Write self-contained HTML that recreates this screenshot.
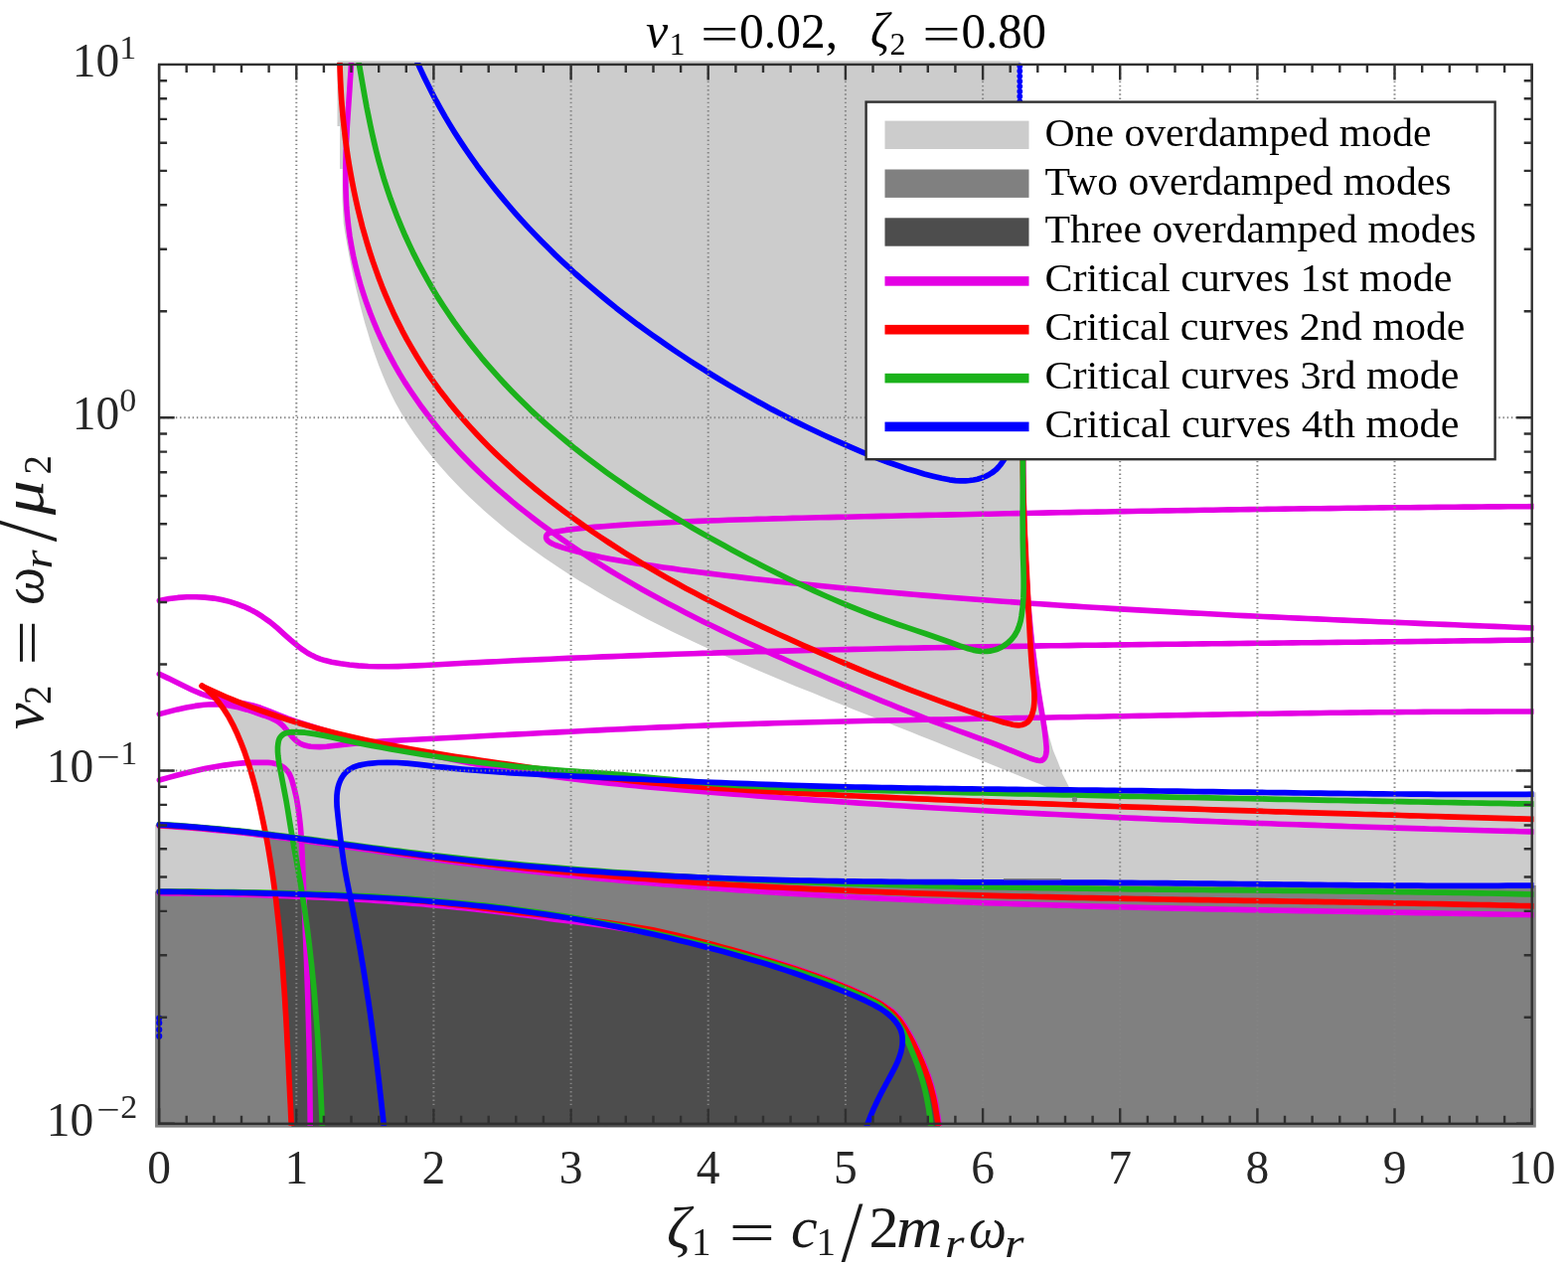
<!DOCTYPE html>
<html lang="en"><head><meta charset="utf-8"><title>Critical damping curves</title>
<style>html,body{margin:0;padding:0;background:#fff}body{width:1578px;height:1276px;overflow:hidden}svg{display:block}text{font-family:"Liberation Serif","DejaVu Serif",serif;fill:#262626}.it{font-style:italic}.sl{font-family:"DejaVu Sans Light","DejaVu Sans","Liberation Sans",sans-serif;font-weight:200}</style></head><body>
<svg width="1578" height="1276" viewBox="0 0 1578 1276">
<rect width="1578" height="1276" fill="#fff"/>
<defs><clipPath id="cp"><rect x="156.1" y="61.3" width="1389.6" height="1073.1"/></clipPath>
<clipPath id="cc"><rect x="157.1" y="62.9" width="1386.4" height="1069.9"/></clipPath></defs>
<g clip-path="url(#cp)">
<path d="M339.5 61.0 L339.5 127.0 L342.0 127.0 L342.0 170.0 L344.6 170.0 L344.6 203.0 L345.7 225.0 L347.3 234.9 L349.0 244.7 L350.8 254.5 L352.7 264.4 L354.5 273.2 L356.4 282.0 L358.4 290.8 L360.5 299.5 L362.7 308.3 L365.0 317.0 L367.4 325.7 L370.0 334.3 L372.6 342.9 L375.4 351.5 L378.4 360.0 L381.5 368.5 L385.2 377.7 L389.1 386.9 L393.3 396.0 L397.8 404.9 L402.6 413.6 L407.7 422.2 L412.6 429.8 L417.7 437.2 L423.0 444.5 L428.5 451.7 L434.2 458.8 L440.0 465.7 L445.9 472.5 L451.9 479.2 L458.1 485.7 L465.1 492.9 L472.2 499.9 L479.5 506.7 L486.8 513.5 L494.3 520.0 L502.0 526.5 L509.7 532.9 L517.5 539.1 L525.4 545.2 L532.7 550.5 L540.0 555.8 L547.3 561.0 L554.8 566.1 L562.2 571.1 L569.8 576.1 L577.4 580.9 L585.1 585.7 L592.8 590.3 L600.5 594.9 L608.3 599.5 L616.1 603.9 L624.0 608.3 L632.8 613.1 L641.6 617.8 L650.4 622.4 L659.3 627.0 L668.3 631.4 L677.2 635.9 L686.2 640.2 L695.2 644.5 L704.3 648.7 L713.4 652.9 L722.5 657.0 L731.6 661.1 L740.8 665.1 L750.0 669.1 L759.1 673.0 L767.4 676.5 L775.7 680.0 L784.0 683.5 L792.3 686.9 L800.7 690.4 L809.0 693.8 L817.4 697.1 L825.7 700.5 L834.1 703.9 L842.4 707.2 L850.8 710.6 L859.1 713.9 L867.5 717.2 L875.9 720.5 L884.3 723.8 L892.6 727.1 L901.0 730.5 L909.4 733.8 L917.7 737.1 L926.1 740.4 L934.5 743.7 L942.8 747.1 L951.2 750.4 L960.5 754.2 L969.7 757.9 L979.0 761.7 L988.3 765.4 L997.5 769.2 L1006.8 773.0 L1016.0 776.7 L1025.3 780.5 L1034.6 784.3 L1043.8 788.0 L1053.1 791.7 L1062.4 795.5 L1071.7 799.2 L1081.0 802.9 L1084.7 804.4 L1084.5 804.8 L1081.7 802.7 L1075.0 790.3 L1069.3 778.9 L1064.6 766.5 L1059.8 755.1 L1055.0 738.0 L1051.0 719.0 L1048.0 700.0 L1043.0 660.0 L1039.0 630.0 L1036.0 600.0 L1034.0 560.0 L1032.0 500.0 L1031.0 461.0 L1027.0 440.0 L1026.5 61.0Z" fill="#cccccc"/>
<path d="M150.0 830.1 L160.3 829.8 L169.3 830.4 L178.3 831.0 L187.3 831.6 L196.3 832.4 L205.2 833.1 L214.2 834.0 L223.2 834.8 L232.1 835.8 L241.1 836.7 L250.0 837.7 L258.9 838.7 L266.3 834.1 L264.5 825.3 L262.6 816.4 L260.7 807.6 L258.6 798.9 L256.3 790.1 L253.9 781.4 L251.4 772.7 L248.6 764.1 L245.7 755.6 L242.4 747.2 L238.9 738.8 L235.1 730.7 L230.4 721.8 L225.6 714.2 L221.0 707.8 L216.6 702.4 L212.5 698.1 L208.1 693.9 L203.4 690.1 L203.1 690.3 L211.3 694.1 L219.6 697.9 L227.9 701.5 L236.2 705.0 L244.6 708.3 L253.0 711.6 L262.3 715.0 L271.8 718.3 L281.2 721.5 L290.7 724.6 L300.3 727.5 L309.9 730.3 L319.5 733.0 L329.1 735.5 L338.8 738.0 L348.5 740.3 L358.2 742.6 L368.0 744.8 L377.8 746.9 L386.6 748.7 L395.4 750.4 L404.3 752.1 L413.1 753.7 L422.0 755.3 L430.9 756.8 L439.8 758.3 L448.7 759.8 L457.6 761.2 L466.5 762.6 L475.4 763.9 L484.3 765.2 L493.2 766.5 L503.1 768.0 L513.0 769.4 L522.9 770.8 L539.0 772.8 L547.9 773.6 L556.9 774.3 L565.9 775.0 L574.9 775.8 L583.8 776.5 L592.8 777.1 L601.8 777.8 L610.8 778.4 L619.8 779.1 L628.8 779.7 L637.7 780.3 L646.7 780.9 L655.7 781.4 L664.7 782.0 L673.7 782.5 L682.7 783.0 L691.7 783.5 L700.7 784.0 L709.7 784.5 L718.7 785.0 L727.6 785.4 L736.6 785.8 L745.6 786.2 L754.6 786.6 L763.6 787.0 L772.6 787.3 L781.6 787.7 L790.6 788.0 L799.6 788.3 L808.6 788.6 L817.6 788.9 L826.6 789.2 L835.6 789.4 L844.6 789.7 L853.6 789.9 L862.6 790.1 L871.6 790.3 L880.6 790.5 L889.6 790.7 L898.7 790.9 L907.7 791.1 L916.7 791.2 L925.7 791.4 L934.7 791.5 L943.7 791.6 L952.7 791.7 L961.7 791.8 L970.7 791.9 L979.7 792.0 L988.7 792.1 L997.7 792.2 L1006.7 792.3 L1015.7 792.4 L1024.7 792.4 L1033.7 792.5 L1042.7 792.6 L1051.7 792.7 L1060.7 792.7 L1069.7 792.8 L1078.7 792.9 L1087.8 793.0 L1096.8 793.1 L1105.8 793.1 L1114.8 793.2 L1123.8 793.3 L1132.8 793.4 L1141.8 793.5 L1150.8 793.7 L1159.8 793.8 L1168.8 793.9 L1177.8 794.0 L1186.8 794.1 L1195.8 794.3 L1204.8 794.4 L1213.8 794.5 L1222.8 794.7 L1231.8 794.8 L1240.8 794.9 L1249.8 795.1 L1258.8 795.2 L1267.8 795.3 L1276.8 795.5 L1285.9 795.6 L1294.9 795.7 L1303.9 795.8 L1312.9 796.0 L1321.9 796.1 L1330.9 796.2 L1339.9 796.3 L1348.9 796.4 L1357.9 796.6 L1366.9 796.7 L1375.9 796.8 L1384.9 796.9 L1393.9 796.9 L1402.9 797.0 L1411.9 797.1 L1420.9 797.2 L1429.9 797.2 L1438.9 797.3 L1447.9 797.3 L1456.9 797.4 L1465.9 797.4 L1475.0 797.4 L1484.0 797.4 L1493.0 797.4 L1502.0 797.4 L1511.0 797.4 L1520.0 797.4 L1529.0 797.4 L1538.0 797.3 L1547.0 797.2 L1550.0 797.2 L1550.0 1140.0 L150.0 1140.0Z" fill="#cccccc"/>
<path d="M150.0 897.3 L160.3 897.3 L170.3 897.4 L180.3 897.5 L190.3 897.6 L200.3 897.8 L210.3 897.9 L219.3 898.0 L228.3 898.2 L237.3 898.4 L246.3 898.5 L255.3 898.7 L264.3 898.9 L273.3 899.1 L276.5 896.3 L275.3 887.4 L274.0 878.4 L272.6 869.5 L271.2 860.7 L269.7 851.8 L268.1 842.9 L267.9 839.8 L276.8 840.9 L285.8 842.0 L294.7 843.1 L303.6 844.3 L312.5 845.4 L321.5 846.6 L330.4 847.8 L339.3 849.0 L348.3 850.2 L357.2 851.4 L366.1 852.6 L375.0 853.8 L384.0 855.0 L392.9 856.2 L401.8 857.4 L410.7 858.5 L419.7 859.7 L428.6 860.8 L437.5 861.9 L446.5 862.9 L455.4 864.0 L464.4 865.0 L473.3 866.0 L482.3 866.9 L491.2 867.9 L500.2 868.8 L509.1 869.6 L518.1 870.5 L527.1 871.3 L536.0 872.1 L545.0 872.9 L554.0 873.6 L562.9 874.4 L571.9 875.1 L580.9 875.8 L589.9 876.4 L598.8 877.1 L607.8 877.7 L616.8 878.3 L625.8 878.8 L634.8 879.4 L643.8 879.9 L652.7 880.4 L661.7 880.9 L670.7 881.4 L679.7 881.8 L688.7 882.2 L697.7 882.6 L706.7 883.0 L715.7 883.4 L724.7 883.7 L733.7 884.0 L742.7 884.3 L751.7 884.6 L760.7 884.9 L769.7 885.1 L778.7 885.4 L787.7 885.6 L796.7 885.8 L805.7 886.0 L814.7 886.2 L823.7 886.4 L832.7 886.5 L841.7 886.7 L850.7 886.8 L859.7 886.9 L868.7 887.0 L877.7 887.1 L886.7 887.2 L895.7 887.3 L904.7 887.4 L913.7 887.5 L922.7 887.5 L931.7 887.6 L940.8 887.6 L949.8 887.7 L958.8 887.7 L967.8 887.8 L976.8 887.8 L985.8 887.8 L994.8 887.8 L1003.8 887.9 L1012.8 887.9 L1021.8 887.9 L1030.8 887.9 L1039.8 888.0 L1048.8 888.0 L1057.8 888.0 L1066.9 888.0 L1075.9 888.1 L1084.9 888.1 L1093.9 888.1 L1102.9 888.2 L1111.9 888.2 L1120.9 888.3 L1129.9 888.3 L1138.9 888.4 L1147.9 888.5 L1156.9 888.5 L1165.9 888.6 L1174.9 888.7 L1183.9 888.8 L1192.9 888.9 L1201.9 889.0 L1210.9 889.1 L1219.9 889.2 L1228.9 889.3 L1237.9 889.4 L1246.9 889.5 L1255.9 889.6 L1264.9 889.7 L1273.9 889.8 L1282.9 889.9 L1291.9 890.0 L1300.9 890.1 L1309.9 890.2 L1318.9 890.3 L1327.9 890.4 L1336.9 890.5 L1345.9 890.6 L1354.9 890.7 L1363.9 890.8 L1372.9 890.9 L1381.9 890.9 L1390.9 891.0 L1399.9 891.1 L1408.9 891.1 L1417.9 891.2 L1426.9 891.2 L1435.9 891.3 L1444.9 891.3 L1453.9 891.3 L1462.9 891.3 L1471.9 891.3 L1480.9 891.3 L1489.9 891.3 L1499.0 891.3 L1508.0 891.3 L1517.0 891.2 L1526.0 891.2 L1535.0 891.1 L1544.0 891.0 L1545.0 891.0 L1550.0 891.0 L1550.0 1140.0 L150.0 1140.0Z" fill="#808080"/>
<path d="M277.7 905.2 L278.7 914.1 L279.7 923.1 L280.7 932.1 L281.6 941.0 L282.4 950.0 L283.2 959.0 L284.0 968.0 L284.7 977.0 L285.3 986.0 L286.0 995.0 L286.6 1004.0 L287.1 1013.0 L287.7 1022.0 L288.2 1031.0 L288.7 1040.0 L289.1 1049.0 L289.6 1058.0 L290.1 1067.0 L290.5 1076.0 L290.9 1085.0 L291.4 1094.0 L291.8 1103.0 L292.3 1112.0 L292.7 1121.0 L293.2 1131.0 L293.4 1134.0 L946.0 1133.8 L945.3 1129.8 L944.0 1120.9 L942.5 1111.9 L940.7 1103.0 L938.1 1093.3 L935.1 1083.7 L932.0 1075.2 L928.6 1066.8 L924.9 1058.4 L920.9 1050.3 L916.7 1042.2 L912.2 1034.3 L908.3 1028.4 L905.2 1024.4 L902.5 1021.3 L899.5 1018.3 L887.1 1009.1 L880.7 1005.5 L872.3 1001.4 L863.9 997.5 L855.4 993.8 L847.0 990.3 L838.5 987.0 L830.0 983.8 L820.5 980.4 L811.0 977.1 L801.5 973.9 L791.9 970.8 L782.4 967.8 L772.8 964.8 L763.2 961.9 L753.6 959.1 L744.9 956.6 L736.2 954.1 L727.5 951.7 L718.7 949.3 L710.0 947.0 L701.2 944.8 L692.5 942.5 L683.7 940.4 L674.9 938.3 L666.0 936.2 L657.1 934.4 L648.2 932.8 L639.3 931.3 L630.3 929.9 L621.4 928.5 L612.4 927.2 L603.5 925.9 L594.5 924.7 L585.6 923.5 L576.6 922.4 L567.6 921.4 L558.7 920.4 L549.7 919.5 L540.7 918.6 L531.8 917.7 L522.8 917.0 L513.9 915.9 L505.0 914.6 L496.1 913.4 L487.2 912.3 L478.2 911.2 L469.3 910.1 L460.3 909.1 L451.4 908.1 L442.4 907.2 L433.5 906.2 L424.5 905.4 L415.5 904.6 L406.5 903.8 L397.5 903.0 L388.5 902.5 L379.5 901.9 L370.5 901.4 L361.5 900.9 L352.5 900.5 L343.5 900.0 L334.5 899.6 L325.5 899.2 L316.5 898.9 L307.4 898.6 L298.4 898.3 L289.4 898.0 L280.4 897.7Z" fill="#4d4d4d"/>
</g>
<g clip-path="url(#cc)" fill="none" stroke-linejoin="round" stroke-linecap="round">
<path d="M353.6 61.1L353.1 70.9L352.4 80.8L351.8 90.7L351.1 100.7L350.5 109.7L349.9 118.7L349.3 127.7L348.9 136.8L348.4 145.8L348.1 154.9L347.9 163.9L347.8 173.0L347.8 182.0L348.0 191.1L348.3 200.1L348.8 209.1L349.6 218.1L350.7 228.0L352.0 237.9L353.7 247.8L355.6 257.6L357.8 267.3L360.2 277.0L362.9 286.6L365.9 296.1L369.1 305.6L372.6 315.0L376.3 324.3L379.8 332.6L383.5 340.8L387.9 349.8L392.5 358.6L397.2 367.4L402.2 376.1L407.4 384.6L412.9 393.0L418.5 401.2L424.2 409.3L430.2 417.3L436.4 425.2L442.7 432.9L449.2 440.5L455.8 447.9L462.6 455.3L468.8 461.8L475.2 468.2L481.6 474.5L488.2 480.7L494.8 486.8L501.6 492.8L508.4 498.7L515.3 504.6L522.3 510.3L529.4 515.9L536.6 521.5L543.8 527.0L551.1 532.3L558.4 537.6L565.8 542.9L573.3 548.0L580.7 553.0L588.3 558.0L595.8 562.9L603.5 567.7L612.0 573.0L620.5 578.1L629.1 583.2L637.7 588.2L646.4 593.2L655.1 598.0L663.9 602.8L672.6 607.5L681.5 612.1L690.3 616.7L699.2 621.2L708.1 625.7L717.1 630.1L726.1 634.4L735.1 638.7L744.1 643.0L753.2 647.2L762.3 651.3L771.4 655.5L779.6 659.2L787.8 662.8L796.0 666.5L804.3 670.1L812.6 673.7L820.8 677.2L829.1 680.8L837.4 684.4L845.7 687.9L854.0 691.4L862.4 694.9L870.7 698.4L879.1 701.8L887.4 705.3L895.8 708.7L904.1 712.1L912.5 715.4L920.9 718.7L929.3 722.0L937.7 725.3L946.1 728.5L955.5 732.0L964.8 735.5L974.2 738.9L983.6 742.3L993.0 745.7L1002.3 749.2L1011.6 752.8L1019.9 756.2L1028.3 759.7L1036.7 763.0L1042.5 764.8L1044.5 765.3L1046.4 765.5L1048.3 765.2L1049.9 764.3L1051.2 762.9L1051.7 762.0L1052.1 761.0L1052.4 760.1L1052.7 759.0L1053.0 756.9L1053.2 754.8L1053.1 751.8L1052.4 743.9L1051.2 734.0L1049.7 724.1L1048.2 715.2L1046.7 706.3L1045.3 697.4L1043.9 688.5L1042.6 679.6L1041.4 670.7L1040.3 661.7L1039.2 652.8L1038.1 642.9L1037.1 632.9L1036.2 622.9L1035.4 614.0L1034.7 605.0L1034.1 596.0L1033.5 587.0L1033.0 578.1L1032.5 569.1L1032.0 560.1L1031.6 551.1L1031.3 542.1L1031.0 533.1L1030.7 524.0L1030.5 515.0L1030.3 506.0L1030.1 497.0L1030.0 488.0L1029.9 479.0L1029.8 470.0L1029.7 461.0L1029.6 452.0L1029.6 442.0L1029.6 432.0L1029.6 430.0" stroke="#e400e4" stroke-width="5.6"/>
<path d="M1545.0 509.6L1536.0 509.7L1527.0 509.7L1518.0 509.8L1509.0 509.9L1500.0 509.9L1491.0 510.0L1482.0 510.1L1473.0 510.1L1464.0 510.2L1455.0 510.3L1446.0 510.4L1437.0 510.5L1428.0 510.6L1419.0 510.7L1410.0 510.7L1401.0 510.8L1392.0 510.9L1383.0 511.0L1374.0 511.1L1365.0 511.2L1356.0 511.3L1347.0 511.5L1338.0 511.6L1329.0 511.7L1320.0 511.8L1311.0 511.9L1302.0 512.0L1293.0 512.1L1284.0 512.3L1275.0 512.4L1266.0 512.5L1257.0 512.6L1248.0 512.8L1239.0 512.9L1230.0 513.0L1221.0 513.2L1212.0 513.3L1203.0 513.5L1194.0 513.6L1185.0 513.7L1176.0 513.9L1167.0 514.0L1158.0 514.2L1149.0 514.3L1140.0 514.5L1131.0 514.6L1122.0 514.8L1113.0 515.0L1104.0 515.1L1095.0 515.3L1086.0 515.4L1077.0 515.6L1068.0 515.8L1059.0 515.9L1050.0 516.1L1041.0 516.3L1032.0 516.5L1023.0 516.6L1014.0 516.8L1005.0 517.0L996.0 517.2L987.0 517.3L978.0 517.5L969.0 517.7L960.0 517.9L951.0 518.1L942.0 518.3L933.0 518.4L924.0 518.6L915.0 518.8L906.0 519.0L897.0 519.2L888.0 519.4L879.0 519.6L870.0 519.8L861.0 520.0L852.0 520.2L843.0 520.4L834.0 520.6L825.0 520.8L816.0 521.0L807.0 521.2L798.0 521.4L789.0 521.7L780.0 521.9L771.0 522.2L762.0 522.4L753.0 522.7L743.0 523.0L733.0 523.3L723.0 523.7L713.0 524.0L703.0 524.4L693.1 524.8L683.1 525.3L673.1 525.7L663.1 526.2L653.1 526.8L643.2 527.3L634.2 527.8L625.2 528.4L616.2 529.0L607.1 529.7L598.1 530.4L589.1 531.2L579.2 532.2L569.5 533.4L559.7 534.9L554.4 535.9L553.4 536.2L552.4 536.6L550.8 537.6L549.7 539.3L549.6 541.2L550.3 543.0L550.9 543.7L551.7 544.5L552.5 545.1L554.3 546.3L556.1 547.3L558.9 548.5L566.5 551.1L576.0 553.9L585.6 556.4L595.3 558.6L605.1 560.7L614.0 562.4L622.9 564.0L631.8 565.5L640.7 566.9L649.6 568.3L658.6 569.6L667.5 570.9L676.4 572.1L685.3 573.4L694.3 574.6L703.2 575.8L712.1 576.9L721.1 578.0L731.0 579.2L740.9 580.4L750.8 581.6L760.8 582.7L770.7 583.8L780.6 584.9L790.6 586.0L800.5 587.0L810.4 588.0L820.4 589.0L830.3 590.0L840.3 591.0L850.2 592.0L860.2 592.9L870.1 593.8L880.1 594.7L890.0 595.6L900.0 596.5L909.9 597.4L919.9 598.2L929.9 599.1L939.8 599.9L949.8 600.7L959.8 601.5L969.7 602.3L979.7 603.0L989.7 603.8L999.6 604.5L1009.6 605.2L1019.6 605.9L1028.6 606.6L1037.5 607.2L1046.5 607.8L1055.5 608.4L1064.5 609.0L1073.5 609.6L1082.4 610.1L1091.4 610.7L1100.4 611.3L1109.4 611.8L1118.4 612.4L1127.4 612.9L1136.4 613.4L1145.4 613.9L1154.3 614.4L1163.3 614.9L1172.3 615.4L1181.3 615.9L1190.3 616.4L1199.3 616.9L1208.3 617.3L1217.3 617.8L1226.3 618.3L1235.3 618.7L1244.3 619.2L1253.2 619.6L1262.2 620.0L1271.2 620.5L1280.2 620.9L1289.2 621.3L1298.2 621.7L1307.2 622.1L1316.2 622.5L1325.2 622.9L1334.2 623.3L1343.2 623.7L1352.2 624.1L1361.2 624.5L1370.2 624.9L1379.2 625.3L1388.2 625.7L1397.2 626.0L1406.1 626.4L1415.1 626.8L1424.1 627.1L1434.1 627.6L1444.1 628.0L1454.1 628.4L1464.1 628.8L1474.1 629.2L1484.1 629.6L1494.1 630.0L1504.0 630.4L1514.0 630.8L1524.0 631.2L1534.0 631.6L1544.0 632.0L1545.0 632.0" stroke="#e400e4" stroke-width="5.6"/>
<path d="M160.3 604.4L170.1 602.6L179.0 601.4L188.0 600.8L197.1 600.7L206.2 601.1L215.2 602.1L223.1 603.5L230.9 605.4L238.5 607.8L245.1 610.3L251.4 613.1L257.6 616.4L264.3 620.7L271.7 625.9L278.7 631.7L285.5 637.8L292.3 643.9L299.2 649.7L304.8 653.9L309.7 657.2L314.1 659.6L317.6 661.3L322.2 663.1L327.0 664.6L333.8 666.2L342.7 667.8L351.6 669.0L360.6 669.9L370.6 670.5L380.5 670.8L390.5 670.8L400.5 670.6L409.5 670.3L418.5 669.9L427.5 669.5L436.5 669.0L445.5 668.5L454.5 668.0L463.5 667.5L472.6 667.0L481.6 666.6L490.6 666.1L499.6 665.7L508.6 665.3L517.6 664.8L526.6 664.4L535.6 664.0L544.6 663.6L553.6 663.2L562.6 662.8L571.6 662.4L580.6 662.0L589.6 661.7L598.6 661.3L607.6 660.9L616.6 660.6L625.6 660.3L634.6 659.9L643.6 659.6L652.6 659.3L661.6 658.9L670.6 658.6L679.6 658.3L688.6 658.0L697.6 657.7L706.6 657.4L715.6 657.2L724.6 656.9L733.6 656.6L742.6 656.4L751.6 656.1L760.6 655.8L769.6 655.6L778.6 655.3L787.6 655.1L796.6 654.9L805.6 654.6L814.6 654.4L823.6 654.2L832.6 654.0L841.6 653.8L850.6 653.6L859.7 653.4L868.7 653.2L877.7 653.0L886.7 652.8L895.7 652.6L904.7 652.4L913.7 652.2L922.7 652.1L931.7 651.9L940.7 651.7L949.7 651.6L958.7 651.4L967.7 651.2L976.7 651.1L985.7 650.9L994.7 650.8L1003.7 650.6L1012.7 650.5L1021.7 650.4L1030.7 650.2L1039.7 650.1L1048.7 649.9L1057.7 649.8L1066.7 649.7L1075.7 649.6L1084.7 649.4L1093.7 649.3L1102.7 649.2L1111.7 649.1L1120.7 649.0L1129.7 648.9L1138.7 648.7L1147.7 648.6L1156.7 648.5L1165.7 648.4L1174.7 648.3L1183.7 648.2L1192.8 648.1L1201.8 648.0L1210.8 647.9L1219.8 647.8L1228.8 647.7L1237.8 647.6L1246.8 647.5L1255.8 647.4L1264.8 647.3L1273.8 647.2L1282.8 647.1L1291.8 647.0L1300.8 646.9L1309.8 646.8L1318.8 646.7L1327.8 646.6L1336.8 646.5L1345.8 646.4L1354.8 646.3L1363.9 646.2L1372.9 646.1L1381.9 646.0L1390.9 645.9L1399.9 645.8L1408.9 645.7L1417.9 645.6L1426.9 645.5L1435.9 645.4L1444.9 645.3L1453.9 645.1L1462.9 645.0L1471.9 644.9L1481.0 644.8L1490.0 644.7L1499.0 644.6L1508.0 644.4L1517.0 644.3L1526.0 644.2L1535.0 644.1L1544.0 643.9L1545.0 643.9" stroke="#e400e4" stroke-width="5.6"/>
<path d="M160.3 678.3L169.4 682.6L177.4 686.6L185.5 690.6L193.7 694.5L202.9 698.3L210.5 700.8L218.2 702.8L227.0 704.6L235.9 706.2L244.8 707.8L254.5 710.0L262.1 712.3L271.5 715.8L280.7 719.5L289.1 722.8L297.6 725.8L307.1 729.0L316.6 732.0L326.2 734.9L335.8 737.6L344.5 739.9L353.2 742.1L362.0 744.2L370.8 746.2L379.6 748.2L388.3 750.2L397.1 752.2L406.0 754.1L414.8 756.0L423.6 757.8L432.4 759.7L441.2 761.5L450.0 763.3L458.9 765.0L467.7 766.7L476.6 768.4L486.4 770.2L496.2 771.9L506.1 773.6L515.9 775.3L525.8 776.8L535.7 778.3L545.6 779.8L555.5 781.1L565.4 782.5L575.3 783.7L585.2 784.9L595.2 786.1L604.1 787.1L613.1 788.1L622.0 789.0L631.0 789.9L639.9 790.8L648.9 791.6L657.9 792.4L666.9 793.2L675.8 794.0L684.8 794.8L693.8 795.5L702.8 796.3L711.7 797.0L720.7 797.7L729.7 798.4L738.7 799.1L747.7 799.8L756.6 800.5L765.6 801.2L774.6 801.9L783.6 802.5L792.6 803.2L801.5 803.8L810.5 804.5L819.5 805.1L828.5 805.7L837.5 806.3L846.5 806.9L855.4 807.5L864.4 808.1L873.4 808.7L882.4 809.3L891.4 809.9L900.4 810.5L909.4 811.0L918.3 811.6L927.3 812.1L936.3 812.7L945.3 813.2L954.3 813.7L963.3 814.2L972.3 814.7L981.2 815.3L990.2 815.8L999.2 816.3L1008.2 816.7L1017.2 817.2L1026.2 817.7L1035.2 818.2L1044.2 818.6L1053.2 819.1L1062.2 819.5L1071.1 820.0L1080.1 820.4L1089.1 820.9L1098.1 821.3L1107.1 821.7L1116.1 822.1L1125.1 822.6L1134.1 823.0L1143.1 823.4L1152.1 823.8L1161.1 824.2L1170.1 824.6L1179.1 824.9L1188.0 825.3L1197.0 825.7L1206.0 826.1L1215.0 826.4L1224.0 826.8L1233.0 827.1L1242.0 827.5L1251.0 827.8L1260.0 828.2L1269.0 828.5L1278.0 828.8L1287.0 829.2L1296.0 829.5L1305.0 829.8L1314.0 830.1L1323.0 830.4L1332.0 830.8L1341.0 831.1L1350.0 831.4L1359.0 831.7L1368.0 832.0L1377.0 832.2L1386.0 832.5L1395.0 832.8L1404.0 833.1L1413.0 833.4L1422.0 833.6L1431.0 833.9L1440.0 834.2L1449.0 834.4L1458.0 834.7L1467.0 835.0L1476.0 835.2L1485.0 835.5L1494.0 835.7L1503.0 836.0L1512.0 836.2L1521.0 836.4L1530.0 836.7L1539.0 836.9L1545.0 837.1" stroke="#e400e4" stroke-width="5.6"/>
<path d="M160.3 718.6L169.9 716.1L178.6 713.9L187.5 711.9L196.4 710.4L205.4 709.3L213.3 708.8L220.3 708.9L226.2 709.3L232.2 710.2L240.0 711.8L248.7 714.2L257.3 717.0L265.8 720.0L272.4 722.5L276.0 724.1L278.6 725.5L280.3 726.6L281.8 727.8L283.3 729.0L285.4 731.1L289.9 736.6L293.8 741.2L295.9 743.4L298.1 745.4L299.6 746.6L301.3 747.7L303.0 748.6L304.8 749.3L306.7 750.0L309.7 750.7L312.7 751.2L316.7 751.5L321.8 751.6L328.8 751.2L337.7 750.3L346.7 749.3L356.6 748.3L366.6 747.4L376.6 746.6L386.5 745.9L396.5 745.3L406.5 744.7L416.5 744.2L426.5 743.7L436.4 743.2L446.4 742.7L456.4 742.2L466.4 741.7L475.4 741.2L484.4 740.8L493.4 740.3L502.4 739.8L511.3 739.4L520.3 738.9L529.3 738.5L538.3 738.0L547.3 737.5L556.3 737.1L565.3 736.6L574.3 736.2L583.3 735.7L592.3 735.3L601.2 734.9L610.2 734.4L619.2 734.0L628.2 733.6L637.2 733.1L646.2 732.7L655.2 732.3L664.2 731.9L673.2 731.6L682.2 731.2L691.2 730.8L700.2 730.5L709.1 730.1L719.1 729.7L729.1 729.4L739.1 729.0L749.1 728.7L759.1 728.4L769.1 728.1L779.1 727.8L789.1 727.5L799.1 727.2L809.1 727.0L819.1 726.7L829.1 726.5L839.1 726.2L849.1 726.0L859.1 725.8L869.1 725.5L879.1 725.3L889.1 725.1L899.1 724.9L909.1 724.7L919.1 724.5L929.1 724.3L939.1 724.1L949.1 724.0L959.1 723.8L968.1 723.6L977.1 723.4L986.0 723.3L995.0 723.1L1004.0 723.0L1013.0 722.8L1022.0 722.6L1031.0 722.5L1040.0 722.3L1049.0 722.2L1058.0 722.0L1067.0 721.8L1076.0 721.7L1085.0 721.5L1094.0 721.3L1103.0 721.2L1112.0 721.0L1121.0 720.8L1130.0 720.7L1139.0 720.5L1148.0 720.4L1157.0 720.2L1166.0 720.0L1175.0 719.9L1184.0 719.7L1193.0 719.6L1202.0 719.4L1211.0 719.3L1220.0 719.1L1229.0 719.0L1239.0 718.8L1249.0 718.6L1259.0 718.5L1269.0 718.3L1279.0 718.2L1289.0 718.0L1299.0 717.9L1309.0 717.7L1319.0 717.6L1329.0 717.5L1339.0 717.3L1349.0 717.2L1359.0 717.1L1369.0 717.0L1379.0 716.9L1388.0 716.8L1397.0 716.7L1406.0 716.6L1415.0 716.5L1424.0 716.5L1433.0 716.4L1442.0 716.3L1451.0 716.3L1460.0 716.2L1469.0 716.2L1478.0 716.1L1487.0 716.1L1496.0 716.1L1505.0 716.0L1514.0 716.0L1523.0 716.0L1532.0 716.0L1541.0 716.0L1545.0 716.0" stroke="#e400e4" stroke-width="5.6"/>
<path d="M160.3 785.0L169.0 782.6L177.7 780.3L186.5 778.0L196.2 775.7L205.9 773.6L215.7 771.7L225.6 770.1L235.5 768.8L244.4 767.9L253.5 767.4L262.6 767.2L269.8 767.4L273.8 767.8L276.7 768.4L278.6 768.9L280.4 769.5L282.2 770.3L283.9 771.2L285.6 772.3L287.1 773.6L288.5 775.1L289.8 776.6L290.9 778.3L291.8 780.1L292.6 781.9L293.7 784.7L296.1 793.5L298.2 802.3L299.9 812.1L301.3 822.0L302.4 831.9L303.1 840.9L303.6 849.9L304.1 858.9L304.5 867.9L304.9 876.9L305.2 885.9L305.6 894.9L306.0 903.9L306.4 912.9L306.7 922.0L307.1 931.0L307.4 939.9L307.8 948.9L308.1 957.9L308.5 966.9L308.8 975.9L309.1 984.9L309.4 993.9L309.7 1002.9L310.0 1011.9L310.2 1020.9L310.5 1029.9L310.7 1038.9L311.0 1047.9L311.2 1056.9L311.4 1065.9L311.5 1074.9L311.7 1083.9L311.8 1092.9L311.9 1101.9L312.0 1111.0L312.1 1120.0L312.2 1129.0L312.2 1134.0" stroke="#e400e4" stroke-width="5.6"/>
<path d="M160.3 831.0L169.3 831.5L178.3 832.1L187.3 832.8L196.3 833.5L205.2 834.2L214.2 835.1L223.2 835.9L232.1 836.8L241.1 837.8L250.0 838.8L259.0 839.9L267.9 841.0L276.8 842.1L285.8 843.2L294.7 844.4L303.6 845.6L312.5 846.9L321.5 848.1L330.4 849.4L339.3 850.6L348.2 851.9L357.1 853.2L366.0 854.5L374.9 855.8L383.9 857.2L392.8 858.5L401.7 859.7L410.6 861.0L419.5 862.3L428.4 863.6L437.4 864.8L446.3 866.0L455.2 867.2L464.1 868.4L473.1 869.5L482.0 870.7L490.9 871.8L499.9 872.9L508.8 873.9L517.8 875.0L526.7 876.0L535.7 877.0L544.6 878.0L553.6 879.0L562.5 879.9L571.5 880.9L580.4 881.8L589.4 882.7L598.4 883.6L607.3 884.4L616.3 885.3L625.3 886.1L634.2 886.9L643.2 887.7L652.2 888.5L661.1 889.3L670.1 890.1L679.1 890.8L688.1 891.5L697.0 892.2L706.0 892.9L715.0 893.6L724.0 894.3L733.0 894.9L741.9 895.6L750.9 896.2L759.9 896.8L768.9 897.4L777.9 898.0L786.9 898.6L795.9 899.1L804.8 899.7L813.8 900.2L822.8 900.7L831.8 901.2L840.8 901.7L849.8 902.2L858.8 902.7L867.8 903.2L876.8 903.6L885.8 904.1L894.8 904.5L903.8 904.9L912.7 905.4L921.7 905.8L930.7 906.2L939.7 906.6L948.7 906.9L957.7 907.3L966.7 907.7L975.7 908.0L984.7 908.4L993.7 908.7L1002.7 909.0L1011.7 909.3L1020.7 909.6L1029.7 909.9L1038.7 910.2L1047.7 910.5L1056.7 910.8L1065.8 911.1L1074.8 911.3L1083.8 911.6L1092.8 911.9L1101.8 912.1L1110.8 912.4L1119.8 912.6L1128.8 912.8L1137.8 913.0L1146.8 913.3L1155.8 913.5L1164.8 913.7L1173.8 913.9L1182.8 914.1L1191.8 914.3L1200.8 914.5L1209.8 914.7L1218.8 914.9L1227.9 915.0L1236.9 915.2L1245.9 915.4L1254.9 915.6L1263.9 915.7L1272.9 915.9L1281.9 916.1L1290.9 916.2L1299.9 916.4L1308.9 916.6L1317.9 916.7L1326.9 916.9L1335.9 917.0L1344.9 917.2L1353.9 917.3L1362.9 917.5L1371.9 917.7L1381.0 917.8L1390.0 918.0L1399.0 918.1L1408.0 918.3L1417.0 918.4L1426.0 918.6L1435.0 918.7L1444.0 918.9L1453.0 919.0L1462.0 919.2L1471.0 919.4L1480.0 919.5L1489.0 919.7L1498.0 919.9L1507.0 920.0L1516.0 920.2L1525.0 920.4L1534.0 920.5L1544.0 920.7L1545.0 920.8" stroke="#e400e4" stroke-width="5.6"/>
<path d="M160.3 898.8L170.3 898.9L180.3 899.0L190.3 899.1L199.3 899.2L208.3 899.4L217.3 899.6L226.3 899.8L235.3 900.0L244.3 900.3L253.3 900.5L262.3 900.8L271.3 901.1L280.3 901.4L289.3 901.7L298.3 902.1L307.3 902.5L316.3 902.9L325.3 903.3L334.3 903.7L343.3 904.2L352.3 904.7L361.3 905.3L370.3 905.8L379.2 906.4L388.2 907.0L397.2 907.7L406.2 908.4L415.2 909.1L424.1 909.8L433.1 910.6L442.0 911.5L451.0 912.3L459.9 913.2L468.9 914.0L477.8 914.9L486.8 915.9L495.7 916.9L504.6 917.9L513.5 919.0L522.4 920.2L531.3 921.3L540.2 922.6L549.1 923.9L558.0 925.2L566.9 926.2L575.9 927.3L584.8 928.4L593.7 929.6L602.6 930.8L611.6 932.1L620.5 933.4L629.4 934.8L638.3 936.3L647.2 937.8L656.1 939.4L665.0 941.0L673.8 942.7L682.7 944.4L691.6 946.2L700.4 948.0L709.2 949.9L718.1 951.9L726.9 953.9L735.7 955.9L744.5 958.0L753.3 960.2L763.0 962.7L772.6 965.6L782.1 968.5L791.7 971.5L801.2 974.6L810.7 977.8L820.2 981.1L829.7 984.5L838.2 987.7L846.7 991.1L855.1 994.6L863.5 998.2L872.0 1002.1L880.3 1006.2L886.6 1009.7L899.6 1018.9L902.4 1021.8L905.1 1024.8L908.1 1028.8L911.4 1033.8L915.9 1041.7L920.2 1049.7L924.1 1057.8L927.8 1066.1L931.2 1074.5L934.4 1083.0L937.1 1091.6L939.5 1100.3L941.5 1109.2L943.0 1118.1L944.4 1127.1L945.5 1134.0" stroke="#e400e4" stroke-width="5.6"/>
<path d="M341.9 61.3L342.2 71.1L342.6 81.0L343.1 90.8L343.7 100.7L344.5 110.6L345.4 120.6L346.5 130.5L347.5 139.5L348.7 148.4L350.0 157.4L351.4 166.3L353.0 175.2L354.6 184.1L356.4 193.0L358.3 201.9L360.3 210.7L362.5 219.5L364.7 228.3L367.2 237.0L369.7 245.7L372.4 254.3L375.2 262.9L378.2 271.4L381.3 279.9L384.5 288.3L387.9 296.6L391.9 305.8L396.0 314.9L400.3 323.9L404.8 332.8L409.5 341.6L414.4 350.2L419.5 358.8L424.8 367.2L430.2 375.5L435.9 383.7L441.7 391.7L447.8 399.6L453.9 407.4L460.3 415.1L466.8 422.7L473.5 430.2L479.6 436.8L485.8 443.3L492.1 449.7L498.6 456.1L505.1 462.3L511.7 468.4L518.4 474.5L525.2 480.5L532.1 486.4L539.1 492.2L546.1 497.9L553.2 503.5L560.4 509.0L567.6 514.5L574.8 519.8L582.2 525.1L589.5 530.3L596.9 535.5L604.4 540.5L612.7 546.0L621.1 551.4L629.6 556.8L638.1 562.0L646.6 567.2L655.2 572.3L663.8 577.3L672.5 582.2L681.2 587.1L690.0 591.9L698.8 596.6L707.6 601.2L716.5 605.8L725.4 610.3L734.4 614.8L743.3 619.2L751.4 623.1L759.6 627.0L767.7 630.9L775.9 634.7L784.1 638.5L792.3 642.2L800.5 645.9L808.7 649.6L817.0 653.2L825.3 656.8L833.6 660.4L841.8 664.0L850.2 667.5L858.5 671.0L866.8 674.5L875.2 678.0L883.5 681.4L891.9 684.7L900.3 688.0L908.6 691.3L917.0 694.6L926.4 698.1L935.7 701.6L945.1 705.1L954.5 708.5L963.8 711.8L973.2 715.1L982.6 718.3L992.0 721.4L1001.5 724.4L1010.2 727.0L1019.2 729.2L1022.3 729.7L1024.3 729.9L1026.3 729.8L1028.3 729.5L1030.2 728.9L1031.9 728.1L1033.6 727.1L1035.0 725.8L1036.2 724.2L1037.2 722.5L1038.0 720.6L1039.0 717.7L1039.8 714.8L1040.4 711.9L1040.8 707.9L1041.0 703.9L1040.9 697.9L1040.2 688.9L1039.3 679.8L1038.5 670.8L1037.8 661.8L1037.2 652.8L1036.6 642.8L1036.1 632.9L1035.5 622.9L1035.0 613.0L1034.6 603.0L1034.1 593.1L1033.6 583.1L1033.1 573.1L1032.6 564.1L1032.2 555.1L1031.8 546.1L1031.3 537.1L1031.0 528.1L1030.6 519.1L1030.3 510.0L1030.0 501.0L1029.8 492.0L1029.6 483.0L1029.4 474.0L1029.4 465.0L1029.4 455.0L1029.4 445.0L1029.6 435.0L1029.8 430.0" stroke="#ff0000" stroke-width="5.7"/>
<path d="M203.4 690.1L208.1 693.9L212.5 698.1L216.6 702.4L221.0 707.8L225.6 714.2L230.4 721.8L235.1 730.7L238.9 738.8L242.4 747.2L245.7 755.6L248.6 764.1L251.4 772.7L253.9 781.4L256.3 790.1L258.6 798.9L260.7 807.6L262.6 816.4L264.5 825.3L266.3 834.1L268.1 842.9L269.7 851.8L271.2 860.7L272.6 869.5L274.0 878.4L275.3 887.4L276.5 896.3L277.7 905.2L278.7 914.1L279.7 923.1L280.7 932.1L281.6 941.0L282.4 950.0L283.2 959.0L284.0 968.0L284.7 977.0L285.3 986.0L286.0 995.0L286.6 1004.0L287.1 1013.0L287.7 1022.0L288.2 1031.0L288.7 1040.0L289.1 1049.0L289.6 1058.0L290.1 1067.0L290.5 1076.0L290.9 1085.0L291.4 1094.0L291.8 1103.0L292.3 1112.0L292.7 1121.0L293.2 1131.0L293.4 1134.0" stroke="#ff0000" stroke-width="5.7"/>
<path d="M160.3 830.5L169.3 830.9L178.3 831.4L187.3 832.0L196.3 832.6L205.3 833.3L214.2 834.0L223.2 834.9L233.1 835.8L243.1 836.8L253.0 837.9L263.0 839.1L272.9 840.3L282.8 841.5L291.7 842.6L300.7 843.8L309.6 845.0L318.5 846.2L327.4 847.4L336.3 848.7L345.3 850.0L354.2 851.2L363.1 852.5L372.0 853.8L380.9 855.1L389.8 856.3L398.7 857.6L407.7 858.8L416.6 860.1L425.5 861.3L434.4 862.5L443.4 863.7L452.3 864.8L461.2 865.9L470.2 867.0L479.1 868.1L488.0 869.2L497.0 870.2L505.9 871.2L514.9 872.2L523.8 873.2L532.8 874.1L541.7 875.0L550.7 875.9L559.6 876.8L568.6 877.6L577.6 878.5L586.5 879.3L595.5 880.1L604.5 880.9L613.4 881.6L622.4 882.4L631.4 883.1L640.3 883.8L649.3 884.5L658.3 885.2L667.3 885.8L676.3 886.4L685.2 887.1L694.2 887.7L703.2 888.3L712.2 888.9L721.2 889.4L730.1 890.0L739.1 890.5L748.1 891.0L757.1 891.6L766.1 892.1L775.1 892.6L784.1 893.0L793.1 893.5L802.0 893.9L811.0 894.4L820.0 894.8L829.0 895.2L838.0 895.6L847.0 896.0L856.0 896.4L865.0 896.8L874.0 897.2L883.0 897.5L892.0 897.9L901.0 898.2L910.0 898.5L919.0 898.8L927.9 899.1L936.9 899.4L945.9 899.7L954.9 900.0L963.9 900.3L972.9 900.6L981.9 900.8L990.9 901.1L999.9 901.3L1008.9 901.6L1017.9 901.8L1026.9 902.0L1035.9 902.2L1044.9 902.5L1053.9 902.7L1062.9 902.9L1071.9 903.1L1080.9 903.3L1089.9 903.5L1098.9 903.6L1107.9 903.8L1117.0 904.0L1126.0 904.2L1135.0 904.3L1144.0 904.5L1153.0 904.7L1162.0 904.8L1171.0 905.0L1180.0 905.1L1189.0 905.3L1198.0 905.4L1207.0 905.6L1216.0 905.7L1225.0 905.9L1234.0 906.0L1243.0 906.2L1252.0 906.3L1261.0 906.4L1270.0 906.6L1279.0 906.7L1288.0 906.9L1297.0 907.0L1306.0 907.1L1315.0 907.3L1324.0 907.4L1333.0 907.6L1342.0 907.7L1351.0 907.9L1360.0 908.0L1369.0 908.2L1378.0 908.3L1387.0 908.5L1396.0 908.6L1405.0 908.8L1414.0 909.0L1423.0 909.1L1432.0 909.3L1441.0 909.5L1450.0 909.7L1459.0 909.9L1469.0 910.1L1479.0 910.3L1489.0 910.5L1499.0 910.7L1509.0 911.0L1519.0 911.2L1529.0 911.5L1539.0 911.7L1545.0 911.9" stroke="#ff0000" stroke-width="5.7"/>
<path d="M160.3 897.3L170.3 897.4L180.3 897.5L190.3 897.6L199.3 897.7L208.3 897.8L217.3 897.9L226.3 898.1L235.3 898.2L244.3 898.4L253.3 898.6L262.3 898.8L271.3 899.0L280.4 899.2L289.4 899.5L298.4 899.8L307.4 900.1L316.4 900.4L325.4 900.7L334.4 901.1L343.4 901.5L352.4 901.9L361.4 902.4L370.4 902.9L379.4 903.4L388.4 904.0L397.4 904.5L406.4 905.2L415.4 906.0L424.3 906.9L433.3 907.7L442.3 908.6L451.2 909.6L460.2 910.6L469.1 911.6L478.1 912.7L487.0 913.8L495.9 914.9L504.8 916.1L513.7 917.3L522.7 918.4L531.6 919.2L540.6 920.1L549.6 920.9L558.5 921.9L567.5 922.9L576.4 923.9L585.4 925.0L594.3 926.2L603.3 927.4L612.2 928.6L621.1 930.0L630.1 931.4L639.0 932.8L647.9 934.3L656.9 935.9L665.7 937.7L674.5 939.7L683.3 941.8L692.1 944.0L700.9 946.2L709.6 948.5L718.4 950.8L727.1 953.2L735.8 955.6L744.5 958.0L753.2 960.5L762.8 963.4L772.4 966.3L781.9 969.2L791.5 972.2L801.0 975.3L810.5 978.5L820.0 981.8L829.5 985.2L837.9 988.4L846.4 991.7L854.8 995.2L863.3 998.9L871.7 1002.7L880.0 1006.8L886.3 1010.3L898.6 1019.4L901.4 1022.3L904.0 1025.3L907.1 1029.3L910.9 1035.1L915.4 1042.9L919.6 1050.9L923.5 1059.1L927.2 1067.3L930.6 1075.7L933.7 1084.2L936.7 1093.7L939.2 1103.4L941.0 1112.2L942.5 1121.1L943.9 1130.1L944.5 1134.0" stroke="#ff0000" stroke-width="5.7"/>
<path d="M203.1 690.3L211.3 694.1L219.6 697.9L227.9 701.5L236.2 705.0L244.6 708.3L253.0 711.6L262.3 715.0L271.8 718.3L281.2 721.5L290.7 724.6L300.3 727.5L309.9 730.3L319.5 733.0L329.1 735.5L338.8 738.0L348.5 740.3L358.2 742.6L368.0 744.8L377.8 746.9L386.6 748.7L395.4 750.4L404.3 752.1L413.1 753.7L422.0 755.3L430.9 756.8L439.8 758.3L448.7 759.8L457.6 761.2L466.5 762.6L475.4 763.9L484.3 765.2L493.2 766.5L503.1 768.0L513.0 769.4L522.9 770.8L532.8 772.2L541.7 773.5L550.6 774.9L559.5 776.2L568.4 777.5L577.3 778.7L586.2 779.9L595.2 781.1L604.1 782.2L614.0 783.4L624.0 784.5L633.9 785.6L643.8 786.6L653.8 787.6L663.7 788.5L673.7 789.4L683.7 790.3L693.6 791.1L703.6 791.9L713.6 792.6L723.5 793.4L733.5 794.0L743.5 794.7L753.5 795.3L762.4 795.9L771.4 796.4L780.4 796.9L789.4 797.4L798.4 797.9L807.4 798.4L816.4 798.8L825.4 799.3L834.4 799.7L843.3 800.1L852.3 800.6L861.3 801.0L870.3 801.4L879.3 801.8L888.3 802.2L897.3 802.6L906.3 803.0L915.3 803.4L924.3 803.8L933.3 804.2L942.3 804.6L951.3 805.0L960.3 805.3L969.2 805.7L978.2 806.1L987.2 806.4L996.2 806.8L1005.2 807.1L1014.2 807.5L1023.2 807.9L1032.2 808.2L1041.2 808.5L1050.2 808.9L1059.2 809.2L1068.2 809.5L1077.2 809.9L1086.2 810.2L1095.2 810.5L1104.2 810.8L1113.2 811.2L1122.2 811.5L1131.2 811.8L1140.1 812.1L1149.1 812.4L1158.1 812.7L1167.1 813.0L1176.1 813.3L1185.1 813.6L1194.1 813.9L1203.1 814.2L1212.1 814.5L1221.1 814.8L1230.1 815.1L1239.1 815.4L1248.1 815.6L1257.1 815.9L1266.1 816.2L1275.1 816.5L1284.1 816.8L1293.1 817.0L1302.1 817.3L1311.1 817.6L1320.1 817.9L1329.1 818.1L1338.1 818.4L1347.1 818.7L1356.1 818.9L1365.1 819.2L1374.0 819.5L1383.0 819.7L1392.0 820.0L1401.0 820.2L1410.0 820.5L1419.0 820.8L1428.0 821.0L1437.0 821.3L1446.0 821.5L1455.0 821.8L1464.0 822.1L1473.0 822.3L1482.0 822.6L1491.0 822.8L1500.0 823.1L1509.0 823.3L1518.0 823.6L1527.0 823.9L1536.0 824.1L1545.0 824.4" stroke="#ff0000" stroke-width="5.7" stroke-linecap="round"/>
<path d="M360.8 61.0L362.5 70.9L364.2 80.7L365.9 90.6L367.5 99.4L369.1 108.3L370.9 117.1L372.7 126.0L374.6 134.8L376.6 143.5L378.7 152.3L381.2 162.0L383.9 171.6L386.7 181.2L389.8 190.7L393.0 200.1L396.5 209.5L400.1 218.9L403.9 228.1L407.8 237.3L412.0 246.4L416.3 255.4L420.8 264.3L425.5 273.1L430.3 281.9L435.3 290.5L440.5 299.1L445.9 307.5L451.4 315.8L457.1 324.1L462.4 331.4L467.7 338.6L473.2 345.7L478.8 352.8L484.5 359.8L490.3 366.6L496.3 373.4L502.3 380.1L508.4 386.7L514.6 393.2L521.0 399.7L527.4 406.0L533.8 412.3L541.1 419.1L548.5 425.8L556.0 432.4L563.6 438.9L571.3 445.3L579.0 451.6L586.9 457.7L594.8 463.8L602.8 469.8L610.8 475.7L619.0 481.5L627.2 487.2L635.4 492.8L643.7 498.4L651.3 503.3L658.9 508.1L666.5 512.9L674.2 517.6L681.9 522.3L689.7 526.9L697.4 531.5L705.3 535.9L713.1 540.4L721.0 544.8L728.9 549.1L736.8 553.4L744.8 557.7L752.7 561.9L760.7 566.1L768.8 570.2L776.8 574.2L784.9 578.2L793.0 582.2L802.0 586.5L811.0 590.7L820.1 594.9L829.2 599.0L838.4 603.0L847.5 606.9L856.7 610.7L866.0 614.4L875.3 618.0L884.6 621.5L894.0 624.9L903.4 628.2L912.8 631.4L922.3 634.6L931.7 637.8L940.3 640.7L948.8 643.7L957.3 646.7L965.8 649.9L974.4 652.8L979.3 654.1L983.2 654.9L987.2 655.3L990.2 655.5L993.2 655.4L996.2 655.1L999.1 654.5L1002.0 653.7L1004.8 652.7L1007.6 651.4L1010.2 649.9L1012.7 648.1L1015.0 646.2L1017.2 644.2L1019.2 641.9L1021.0 639.5L1022.5 637.0L1023.9 634.4L1025.0 631.6L1026.0 628.8L1027.1 625.0L1028.0 620.0L1029.2 611.0L1029.9 601.9L1030.2 591.9L1030.2 582.0L1030.0 572.0L1029.7 562.1L1029.5 552.1L1029.3 542.1L1029.3 533.1L1029.2 524.1L1029.2 515.0L1029.3 506.0L1029.3 497.0L1029.4 488.0L1029.4 478.9L1029.4 469.9L1029.4 460.9L1029.4 450.9L1029.2 441.0L1029.0 431.0L1029.0 430.0" stroke="#1bb21b" stroke-width="5.7"/>
<path d="M1545.0 809.1L1536.0 808.9L1527.0 808.8L1518.0 808.6L1509.0 808.4L1500.0 808.3L1491.0 808.1L1482.0 808.0L1473.0 807.8L1464.0 807.6L1455.0 807.5L1446.0 807.3L1437.0 807.1L1428.0 807.0L1419.0 806.8L1410.0 806.6L1401.0 806.5L1392.0 806.3L1383.0 806.1L1374.0 806.0L1365.0 805.8L1356.0 805.6L1347.0 805.5L1337.0 805.3L1327.0 805.1L1317.0 804.9L1307.0 804.7L1297.0 804.5L1287.0 804.3L1277.0 804.1L1267.0 803.9L1257.0 803.7L1247.0 803.5L1237.0 803.3L1227.0 803.1L1217.0 802.9L1207.0 802.7L1197.0 802.5L1187.0 802.3L1177.1 802.1L1167.1 801.9L1157.1 801.7L1147.1 801.5L1137.1 801.3L1127.1 801.1L1117.1 800.8L1107.1 800.6L1097.1 800.4L1088.1 800.2L1079.1 800.0L1070.1 799.8L1061.1 799.6L1052.1 799.4L1043.1 799.2L1034.1 799.0L1025.1 798.8L1016.1 798.6L1007.1 798.4L998.1 798.2L989.1 798.0L980.1 797.8L971.1 797.6L962.1 797.3L953.1 797.1L944.1 796.9L935.1 796.7L926.1 796.5L917.1 796.3L908.1 796.0L899.1 795.8L890.1 795.6L881.1 795.4L872.1 795.1L863.1 794.9L854.1 794.7L845.1 794.4L836.1 794.2L827.1 794.0L818.1 793.7L809.1 793.4L800.1 793.1L791.1 792.8L782.1 792.4L772.1 792.0L762.1 791.5L752.1 791.0L742.2 790.4L732.2 789.7L722.2 789.0L712.3 788.1L702.3 787.2L692.4 786.3L683.4 785.4L674.4 784.4L665.5 783.5L655.5 782.5L645.6 781.5L635.6 780.6L625.7 779.7L615.7 778.9L605.8 778.2L595.8 777.4L586.8 776.8L577.8 776.1L568.8 775.5L559.9 774.8L550.9 774.1L541.9 773.4L532.9 772.6L523.9 771.8L514.0 770.8L504.1 769.7L494.2 768.6L484.2 767.4L474.3 766.2L464.4 764.9L454.5 763.6L445.6 762.3L436.7 761.0L427.8 759.6L418.9 758.2L410.0 756.7L401.1 755.2L392.2 753.7L383.3 752.0L374.4 750.4L365.6 748.7L355.8 746.7L346.1 744.6L336.4 742.5L326.7 740.4L316.9 738.6L307.0 737.2L300.0 736.8L293.8 736.7L291.8 736.9L289.7 737.2L288.8 737.4L287.8 737.7L286.8 738.1L285.9 738.5L285.0 739.0L283.5 740.2L282.2 741.6L281.2 743.3L280.5 745.1L280.1 747.0L279.8 749.0L279.5 752.1L279.5 756.2L279.9 761.2L280.8 768.2L282.7 777.9L284.6 787.7L286.3 796.6L288.0 805.5L289.5 814.4L291.1 824.2L292.7 834.0L294.4 843.8L296.1 853.7L297.9 863.5L299.5 872.4L301.0 881.2L302.6 890.1L304.0 899.0L305.4 907.9L306.8 916.8L308.0 925.7L309.3 934.6L310.4 943.6L311.6 953.5L312.7 963.4L313.8 973.4L314.8 983.3L315.7 992.3L316.5 1001.2L317.2 1010.2L317.9 1019.2L318.6 1028.2L319.3 1037.1L319.9 1046.1L320.4 1055.1L321.0 1064.1L321.5 1073.1L322.0 1082.1L322.4 1091.1L322.9 1100.0L323.3 1110.0L323.8 1120.0L324.2 1130.0L324.4 1134.0" stroke="#1bb21b" stroke-width="5.7"/>
<path d="M160.3 829.5L169.3 830.0L178.3 830.6L187.3 831.3L196.3 832.0L205.2 832.8L214.2 833.6L223.2 834.4L232.1 835.3L241.1 836.2L250.0 837.2L259.0 838.2L267.9 839.2L276.9 840.3L285.8 841.4L294.7 842.5L303.7 843.6L312.6 844.7L321.5 845.9L330.5 847.1L339.4 848.2L348.3 849.4L357.2 850.6L366.2 851.8L375.1 853.0L384.0 854.1L393.0 855.3L401.9 856.4L410.8 857.6L419.8 858.7L428.7 859.8L437.6 860.9L446.6 861.9L455.5 862.9L464.5 863.9L473.4 864.9L482.4 865.9L491.3 866.8L500.3 867.7L509.3 868.6L518.2 869.4L527.2 870.3L536.2 871.1L545.1 871.9L554.1 872.6L563.1 873.4L572.0 874.1L581.0 874.8L590.0 875.5L599.0 876.2L607.9 876.9L616.9 877.5L625.9 878.1L634.9 878.7L643.9 879.3L652.9 879.9L661.9 880.4L670.8 881.0L679.8 881.5L688.8 882.0L697.8 882.5L706.8 883.0L715.8 883.5L724.8 883.9L733.8 884.4L742.8 884.8L751.8 885.2L760.8 885.6L769.8 886.0L778.7 886.4L787.7 886.8L796.7 887.1L805.7 887.5L814.7 887.8L823.7 888.2L832.7 888.5L841.7 888.8L850.7 889.1L859.7 889.4L868.7 889.7L877.7 889.9L886.7 890.2L895.7 890.4L904.7 890.7L913.7 890.9L922.7 891.1L931.7 891.4L940.7 891.6L949.7 891.8L958.7 892.0L967.7 892.2L976.7 892.4L985.7 892.5L994.7 892.7L1003.8 892.9L1012.8 893.0L1021.8 893.2L1030.8 893.3L1039.8 893.5L1048.8 893.6L1057.8 893.7L1066.8 893.9L1075.8 894.0L1084.8 894.1L1093.8 894.2L1102.8 894.3L1111.8 894.5L1120.8 894.6L1129.8 894.7L1138.8 894.8L1147.8 894.9L1156.8 895.0L1165.8 895.1L1174.8 895.1L1183.9 895.2L1192.9 895.3L1201.9 895.4L1210.9 895.5L1219.9 895.6L1228.9 895.7L1237.9 895.7L1246.9 895.8L1255.9 895.9L1264.9 896.0L1273.9 896.1L1282.9 896.2L1291.9 896.3L1300.9 896.3L1309.9 896.4L1318.9 896.5L1327.9 896.6L1336.9 896.7L1346.0 896.8L1355.0 896.9L1364.0 897.0L1373.0 897.1L1382.0 897.2L1391.0 897.3L1400.0 897.4L1409.0 897.6L1418.0 897.7L1427.0 897.8L1436.0 898.0L1445.0 898.1L1454.0 898.2L1463.0 898.4L1472.0 898.5L1481.0 898.7L1490.0 898.8L1499.0 899.0L1508.0 899.2L1517.0 899.4L1526.0 899.6L1535.0 899.8L1544.0 900.0L1545.0 900.0" stroke="#1bb21b" stroke-width="5.7"/>
<path d="M160.3 897.0L170.3 897.1L180.3 897.1L190.3 897.2L199.3 897.3L208.3 897.4L217.3 897.5L226.3 897.6L235.3 897.7L244.3 897.8L253.3 898.0L262.3 898.2L271.4 898.4L280.4 898.6L289.4 898.8L298.4 899.0L307.4 899.3L316.4 899.6L325.4 899.9L334.4 900.3L343.5 900.7L352.5 901.1L361.5 901.5L370.5 901.9L379.5 902.4L388.5 903.0L397.5 903.5L406.5 904.1L415.5 904.7L424.5 905.4L433.4 906.1L442.4 906.8L451.4 907.6L460.4 908.5L469.3 909.3L478.3 910.3L487.3 911.2L496.2 912.2L505.2 913.3L514.1 914.4L523.0 915.5L532.0 916.7L540.9 917.9L549.8 919.2L558.7 920.5L567.6 921.9L576.5 923.4L585.4 924.8L594.3 926.4L603.2 928.0L612.0 929.7L620.9 931.4L629.7 933.1L638.6 935.0L647.4 936.8L656.2 938.6L665.1 940.5L673.9 942.5L682.7 944.5L691.5 946.5L700.2 948.7L709.0 950.8L717.8 953.0L726.5 955.3L735.2 957.6L743.9 960.0L752.6 962.4L762.3 965.1L771.9 967.9L781.5 970.7L791.0 973.7L800.5 976.8L810.0 980.0L819.5 983.3L828.9 986.7L837.4 989.9L845.8 993.2L854.2 996.7L862.6 1000.3L871.0 1004.2L879.3 1008.2L885.5 1011.7L896.0 1020.5L898.2 1022.6L900.8 1025.6L903.3 1028.8L906.0 1033.0L909.0 1038.2L912.9 1046.4L916.4 1054.7L919.9 1063.1L923.2 1071.5L926.1 1080.0L928.7 1088.6L931.0 1097.4L932.9 1106.2L934.5 1115.1L935.8 1124.0L936.8 1133.0L936.9 1134.0" stroke="#1bb21b" stroke-width="5.7"/>
<path d="M419.2 60.9L422.9 69.2L426.8 77.5L430.8 85.6L434.9 93.7L439.1 101.7L443.5 109.6L447.9 117.4L452.5 125.1L457.8 133.7L463.2 142.1L468.7 150.4L474.4 158.6L480.1 166.7L486.1 174.7L492.1 182.6L498.3 190.4L504.6 198.1L511.0 205.8L517.5 213.3L524.2 220.8L530.9 228.1L537.8 235.4L544.7 242.5L551.8 249.6L558.9 256.6L565.5 262.8L572.1 268.9L578.7 275.0L585.5 281.0L592.3 286.9L599.1 292.7L606.1 298.5L613.1 304.2L620.1 309.9L627.2 315.4L634.4 320.9L641.6 326.4L648.9 331.7L656.2 337.0L663.6 342.2L671.0 347.4L678.4 352.5L685.9 357.5L693.4 362.5L701.0 367.4L708.6 372.2L716.2 377.0L724.8 382.2L733.3 387.4L741.9 392.4L750.6 397.4L759.3 402.3L768.0 407.1L776.8 411.9L785.7 416.5L794.5 421.1L803.4 425.6L812.4 430.0L821.4 434.3L830.4 438.5L839.5 442.6L848.6 446.7L857.7 450.7L866.9 454.6L876.2 458.3L885.5 462.0L894.8 465.5L904.3 468.8L912.8 471.7L921.4 474.3L930.1 476.9L938.9 479.2L947.7 481.3L955.6 482.8L961.6 483.6L966.6 483.9L971.7 483.8L975.7 483.5L979.7 483.0L983.7 482.2L987.5 481.0L990.3 480.0L993.0 478.8L995.6 477.4L998.1 475.9L1000.5 474.1L1002.8 472.2L1004.9 470.0L1006.8 467.7L1009.2 464.4L1011.4 461.0L1013.8 456.5L1015.9 451.9L1018.0 446.3L1020.1 439.5L1022.1 430.8L1023.9 421.0L1024.0 420.0" stroke="#0000ff" stroke-width="5.7"/>
<path d="M1545.0 799.2L1536.0 799.3L1527.0 799.3L1518.0 799.3L1509.0 799.4L1500.0 799.4L1491.0 799.4L1482.0 799.4L1473.0 799.3L1464.0 799.3L1455.0 799.3L1446.0 799.3L1437.0 799.2L1428.0 799.2L1419.0 799.1L1410.0 799.0L1401.0 799.0L1392.0 798.9L1383.0 798.8L1374.0 798.7L1365.0 798.6L1356.0 798.5L1347.0 798.4L1338.0 798.3L1329.0 798.2L1320.0 798.1L1311.0 798.0L1302.0 797.9L1293.0 797.7L1284.0 797.6L1275.0 797.5L1266.0 797.4L1257.0 797.2L1248.0 797.1L1239.0 797.0L1230.0 796.9L1220.9 796.7L1211.9 796.6L1202.9 796.5L1193.9 796.3L1184.9 796.2L1175.9 796.1L1166.9 796.0L1157.9 795.9L1148.9 795.7L1139.9 795.6L1130.9 795.5L1121.9 795.4L1112.9 795.3L1103.9 795.2L1094.9 795.1L1085.9 795.0L1076.9 794.9L1067.9 794.8L1058.9 794.7L1049.9 794.6L1040.9 794.5L1031.9 794.5L1022.9 794.4L1013.9 794.3L1004.9 794.2L995.9 794.1L986.9 794.0L977.9 793.9L968.9 793.8L959.9 793.7L950.9 793.5L941.9 793.4L932.9 793.3L923.9 793.2L914.9 793.0L905.9 792.9L896.9 792.7L887.9 792.5L878.9 792.4L869.9 792.2L860.9 792.0L851.9 791.8L842.9 791.5L833.9 791.3L824.9 791.1L815.9 790.8L806.9 790.5L797.9 790.3L788.9 790.0L779.9 789.7L770.9 789.4L761.9 789.0L753.0 788.7L744.0 788.4L735.0 788.0L726.0 787.7L717.0 787.3L708.0 787.0L699.0 786.6L690.0 786.2L681.0 785.8L672.0 785.5L663.0 785.1L654.0 784.7L645.0 784.2L636.0 783.8L627.0 783.4L618.0 783.0L609.0 782.6L600.1 782.1L591.1 781.7L582.1 781.3L573.1 780.8L564.1 780.4L555.1 780.0L545.1 779.4L535.1 778.9L525.1 778.3L515.2 777.8L505.2 777.1L495.2 776.4L485.2 775.7L475.3 774.9L465.3 774.1L455.4 773.1L446.4 772.2L437.5 771.3L428.5 770.2L419.6 769.2L409.6 768.2L399.6 767.5L389.7 767.3L380.6 767.5L371.6 768.3L365.5 769.2L361.6 770.1L358.7 770.9L356.8 771.6L355.0 772.4L353.2 773.4L351.6 774.4L350.0 775.6L348.5 776.9L347.1 778.3L345.8 779.9L344.7 781.5L343.6 783.2L342.7 785.0L341.5 787.8L340.6 790.6L339.9 793.5L339.4 796.5L339.0 800.5L338.9 805.6L339.1 811.6L340.1 821.5L341.2 831.4L342.4 841.3L343.5 850.2L344.7 859.2L346.0 868.1L347.5 877.0L349.1 885.8L350.9 894.7L352.7 903.5L354.4 912.3L356.1 921.2L357.8 930.0L359.4 938.9L361.0 947.7L362.6 956.6L364.1 965.5L365.6 974.3L367.0 983.2L368.4 992.1L369.7 1001.0L371.1 1009.9L372.4 1018.8L373.6 1027.7L374.8 1036.7L376.0 1045.6L377.2 1054.5L378.4 1063.4L379.5 1072.4L380.5 1081.3L381.6 1090.3L382.6 1099.2L383.6 1108.1L384.6 1117.1L385.6 1126.0L386.4 1134.0" stroke="#0000ff" stroke-width="5.7"/>
<path d="M160.3 829.8L169.3 830.4L178.3 831.0L187.3 831.6L196.3 832.4L205.2 833.1L214.2 834.0L223.2 834.8L232.1 835.8L241.1 836.7L250.0 837.7L258.9 838.7L267.9 839.8L276.8 840.9L285.8 842.0L294.7 843.1L303.6 844.3L312.5 845.4L321.5 846.6L330.4 847.8L339.3 849.0L348.3 850.2L357.2 851.4L366.1 852.6L375.0 853.8L384.0 855.0L392.9 856.2L401.8 857.4L410.7 858.5L419.7 859.7L428.6 860.8L437.5 861.9L446.5 862.9L455.4 864.0L464.4 865.0L473.3 866.0L482.3 866.9L491.2 867.9L500.2 868.8L509.1 869.6L518.1 870.5L527.1 871.3L536.0 872.1L545.0 872.9L554.0 873.6L562.9 874.4L571.9 875.1L580.9 875.8L589.9 876.4L598.8 877.1L607.8 877.7L616.8 878.3L625.8 878.8L634.8 879.4L643.8 879.9L652.7 880.4L661.7 880.9L670.7 881.4L679.7 881.8L688.7 882.2L697.7 882.6L706.7 883.0L715.7 883.4L724.7 883.7L733.7 884.0L742.7 884.3L751.7 884.6L760.7 884.9L769.7 885.1L778.7 885.4L787.7 885.6L796.7 885.8L805.7 886.0L814.7 886.2L823.7 886.4L832.7 886.5L841.7 886.7L850.7 886.8L859.7 886.9L868.7 887.0L877.7 887.1L886.7 887.2L895.7 887.3L904.7 887.4L913.7 887.5L922.7 887.5L931.7 887.6L940.8 887.6L949.8 887.7L958.8 887.7L967.8 887.8L976.8 887.8L985.8 887.8L994.8 887.8L1003.8 887.9L1012.8 887.9L1021.8 887.9L1030.8 887.9L1039.8 888.0L1048.8 888.0L1057.8 888.0L1066.9 888.0L1075.9 888.1L1084.9 888.1L1093.9 888.1L1102.9 888.2L1111.9 888.2L1120.9 888.3L1129.9 888.3L1138.9 888.4L1147.9 888.5L1156.9 888.5L1165.9 888.6L1174.9 888.7L1183.9 888.8L1192.9 888.9L1201.9 889.0L1210.9 889.1L1219.9 889.2L1228.9 889.3L1237.9 889.4L1246.9 889.5L1255.9 889.6L1264.9 889.7L1273.9 889.8L1282.9 889.9L1291.9 890.0L1300.9 890.1L1309.9 890.2L1318.9 890.3L1327.9 890.4L1336.9 890.5L1345.9 890.6L1354.9 890.7L1363.9 890.8L1372.9 890.9L1381.9 890.9L1390.9 891.0L1399.9 891.1L1408.9 891.1L1417.9 891.2L1426.9 891.2L1435.9 891.3L1444.9 891.3L1453.9 891.3L1462.9 891.3L1471.9 891.3L1480.9 891.3L1489.9 891.3L1499.0 891.3L1508.0 891.3L1517.0 891.2L1526.0 891.2L1535.0 891.1L1544.0 891.0L1545.0 891.0" stroke="#0000ff" stroke-width="5.7"/>
<path d="M160.3 897.3L170.3 897.4L180.3 897.5L190.3 897.6L200.3 897.8L210.3 897.9L219.3 898.0L228.3 898.2L237.3 898.4L246.3 898.5L255.3 898.7L264.3 898.9L273.3 899.1L282.3 899.4L291.3 899.6L300.3 899.9L309.3 900.2L318.3 900.5L327.3 900.9L336.3 901.2L345.3 901.6L354.3 902.1L363.3 902.5L372.3 903.0L381.3 903.5L390.3 904.0L399.3 904.6L408.3 905.2L417.3 905.9L426.3 906.5L435.3 907.3L444.2 908.0L453.2 908.8L462.2 909.7L471.1 910.5L480.1 911.5L489.0 912.4L499.0 913.6L508.9 914.7L518.8 916.0L528.7 917.3L538.6 918.7L548.5 920.1L558.4 921.6L568.3 923.2L578.2 924.8L587.0 926.3L595.9 927.9L604.7 929.5L613.6 931.2L622.4 932.9L631.2 934.7L640.1 936.5L648.9 938.4L657.7 940.3L666.5 942.3L675.2 944.3L684.0 946.4L692.8 948.5L701.5 950.7L710.2 953.0L719.0 955.3L727.7 957.6L736.4 960.0L745.1 962.4L753.7 964.9L762.4 967.5L771.0 970.1L779.6 972.8L789.1 975.9L798.6 979.0L808.0 982.3L817.4 985.6L826.8 989.0L836.1 992.5L845.3 996.1L854.6 999.9L862.9 1003.4L871.2 1007.2L879.4 1011.2L885.6 1014.7L889.8 1017.5L893.0 1019.9L896.0 1022.5L898.9 1025.3L900.9 1027.6L902.7 1030.0L904.4 1032.5L905.3 1034.3L906.2 1036.1L906.9 1037.9L907.4 1039.8L907.8 1041.7L908.1 1043.7L908.2 1045.7L908.2 1048.7L908.0 1051.7L907.5 1054.7L906.7 1058.6L905.5 1062.5L903.8 1067.2L900.9 1073.6L896.7 1081.6L892.4 1089.5L887.7 1098.3L883.2 1107.2L879.4 1115.4L875.9 1123.7L872.7 1132.1L872.0 1134.0" stroke="#0000ff" stroke-width="5.7"/>
<path d="M1026.3 66.4L1026.3 103.0" stroke="#0000ff" stroke-width="5.8" stroke-dasharray="0 5.1"/>
<path d="M160.2 1024.5L160.2 1024.6" stroke="#0000ff" stroke-width="6.2"/>
<path d="M160.2 1029.3L160.2 1029.4" stroke="#0000ff" stroke-width="6.2"/>
<path d="M160.2 1036.2L160.2 1036.3" stroke="#0000ff" stroke-width="6.2"/>
<path d="M160.2 1042.6L160.2 1042.7" stroke="#0000ff" stroke-width="6.2"/>
</g>
<circle cx="1081.5" cy="804.4" r="2.6" fill="#808080"/><path d="M1010 884.8H1068" stroke="#808080" stroke-width="1.6"/>
<g stroke="#848484" stroke-width="2.0" stroke-dasharray="1.4 2.8" fill="none">
<path d="M298.3 64.9 V1130.8"/>
<path d="M436.4 64.9 V1130.8"/>
<path d="M574.6 64.9 V1130.8"/>
<path d="M712.7 64.9 V1130.8"/>
<path d="M850.9 64.9 V1130.8"/>
<path d="M989.1 64.9 V1130.8"/>
<path d="M1127.2 64.9 V1130.8"/>
<path d="M1265.4 64.9 V1130.8"/>
<path d="M1403.5 64.9 V1130.8"/>
<path d="M160.1 420.2 H1541.7"/>
<path d="M160.1 775.5 H1541.7"/>
</g>
<g stroke="#303030" stroke-width="2.4" fill="none">
<rect x="160.1" y="64.9" width="1381.6" height="1065.9"/>
<path d="M160.1 1130.8 v-15.6 M160.1 64.9 v15.6 M187.7 1130.8 v-8.0 M187.7 64.9 v8.0 M215.4 1130.8 v-8.0 M215.4 64.9 v8.0 M243.0 1130.8 v-8.0 M243.0 64.9 v8.0 M270.6 1130.8 v-8.0 M270.6 64.9 v8.0 M298.3 1130.8 v-15.6 M298.3 64.9 v15.6 M325.9 1130.8 v-8.0 M325.9 64.9 v8.0 M353.5 1130.8 v-8.0 M353.5 64.9 v8.0 M381.2 1130.8 v-8.0 M381.2 64.9 v8.0 M408.8 1130.8 v-8.0 M408.8 64.9 v8.0 M436.4 1130.8 v-15.6 M436.4 64.9 v15.6 M464.1 1130.8 v-8.0 M464.1 64.9 v8.0 M491.7 1130.8 v-8.0 M491.7 64.9 v8.0 M519.3 1130.8 v-8.0 M519.3 64.9 v8.0 M546.9 1130.8 v-8.0 M546.9 64.9 v8.0 M574.6 1130.8 v-15.6 M574.6 64.9 v15.6 M602.2 1130.8 v-8.0 M602.2 64.9 v8.0 M629.8 1130.8 v-8.0 M629.8 64.9 v8.0 M657.5 1130.8 v-8.0 M657.5 64.9 v8.0 M685.1 1130.8 v-8.0 M685.1 64.9 v8.0 M712.7 1130.8 v-15.6 M712.7 64.9 v15.6 M740.4 1130.8 v-8.0 M740.4 64.9 v8.0 M768.0 1130.8 v-8.0 M768.0 64.9 v8.0 M795.6 1130.8 v-8.0 M795.6 64.9 v8.0 M823.3 1130.8 v-8.0 M823.3 64.9 v8.0 M850.9 1130.8 v-15.6 M850.9 64.9 v15.6 M878.5 1130.8 v-8.0 M878.5 64.9 v8.0 M906.2 1130.8 v-8.0 M906.2 64.9 v8.0 M933.8 1130.8 v-8.0 M933.8 64.9 v8.0 M961.4 1130.8 v-8.0 M961.4 64.9 v8.0 M989.1 1130.8 v-15.6 M989.1 64.9 v15.6 M1016.7 1130.8 v-8.0 M1016.7 64.9 v8.0 M1044.3 1130.8 v-8.0 M1044.3 64.9 v8.0 M1072.0 1130.8 v-8.0 M1072.0 64.9 v8.0 M1099.6 1130.8 v-8.0 M1099.6 64.9 v8.0 M1127.2 1130.8 v-15.6 M1127.2 64.9 v15.6 M1154.9 1130.8 v-8.0 M1154.9 64.9 v8.0 M1182.5 1130.8 v-8.0 M1182.5 64.9 v8.0 M1210.1 1130.8 v-8.0 M1210.1 64.9 v8.0 M1237.7 1130.8 v-8.0 M1237.7 64.9 v8.0 M1265.4 1130.8 v-15.6 M1265.4 64.9 v15.6 M1293.0 1130.8 v-8.0 M1293.0 64.9 v8.0 M1320.6 1130.8 v-8.0 M1320.6 64.9 v8.0 M1348.3 1130.8 v-8.0 M1348.3 64.9 v8.0 M1375.9 1130.8 v-8.0 M1375.9 64.9 v8.0 M1403.5 1130.8 v-15.6 M1403.5 64.9 v15.6 M1431.2 1130.8 v-8.0 M1431.2 64.9 v8.0 M1458.8 1130.8 v-8.0 M1458.8 64.9 v8.0 M1486.4 1130.8 v-8.0 M1486.4 64.9 v8.0 M1514.1 1130.8 v-8.0 M1514.1 64.9 v8.0 M1541.7 1130.8 v-15.6 M1541.7 64.9 v15.6 M160.1 1130.8 h15.6 M1541.7 1130.8 h-15.6 M160.1 1023.8 h8.0 M1541.7 1023.8 h-8.0 M160.1 961.3 h8.0 M1541.7 961.3 h-8.0 M160.1 916.9 h8.0 M1541.7 916.9 h-8.0 M160.1 882.5 h8.0 M1541.7 882.5 h-8.0 M160.1 854.3 h8.0 M1541.7 854.3 h-8.0 M160.1 830.5 h8.0 M1541.7 830.5 h-8.0 M160.1 809.9 h8.0 M1541.7 809.9 h-8.0 M160.1 791.8 h8.0 M1541.7 791.8 h-8.0 M160.1 775.5 h15.6 M1541.7 775.5 h-15.6 M160.1 668.5 h8.0 M1541.7 668.5 h-8.0 M160.1 606.0 h8.0 M1541.7 606.0 h-8.0 M160.1 561.6 h8.0 M1541.7 561.6 h-8.0 M160.1 527.2 h8.0 M1541.7 527.2 h-8.0 M160.1 499.0 h8.0 M1541.7 499.0 h-8.0 M160.1 475.2 h8.0 M1541.7 475.2 h-8.0 M160.1 454.6 h8.0 M1541.7 454.6 h-8.0 M160.1 436.5 h8.0 M1541.7 436.5 h-8.0 M160.1 420.2 h15.6 M1541.7 420.2 h-15.6 M160.1 313.2 h8.0 M1541.7 313.2 h-8.0 M160.1 250.7 h8.0 M1541.7 250.7 h-8.0 M160.1 206.3 h8.0 M1541.7 206.3 h-8.0 M160.1 171.9 h8.0 M1541.7 171.9 h-8.0 M160.1 143.7 h8.0 M1541.7 143.7 h-8.0 M160.1 119.9 h8.0 M1541.7 119.9 h-8.0 M160.1 99.3 h8.0 M1541.7 99.3 h-8.0 M160.1 81.2 h8.0 M1541.7 81.2 h-8.0"/>
</g>
<text x="160.1" y="1191.4" font-size="47.5" text-anchor="middle">0</text>
<text x="298.3" y="1191.4" font-size="47.5" text-anchor="middle">1</text>
<text x="436.4" y="1191.4" font-size="47.5" text-anchor="middle">2</text>
<text x="574.6" y="1191.4" font-size="47.5" text-anchor="middle">3</text>
<text x="712.7" y="1191.4" font-size="47.5" text-anchor="middle">4</text>
<text x="850.9" y="1191.4" font-size="47.5" text-anchor="middle">5</text>
<text x="989.1" y="1191.4" font-size="47.5" text-anchor="middle">6</text>
<text x="1127.2" y="1191.4" font-size="47.5" text-anchor="middle">7</text>
<text x="1265.4" y="1191.4" font-size="47.5" text-anchor="middle">8</text>
<text x="1403.5" y="1191.4" font-size="47.5" text-anchor="middle">9</text>
<text x="1541.7" y="1191.4" font-size="47.5" text-anchor="middle">10</text>
<text x="120.3" y="76.7" font-size="47.5" text-anchor="end">10</text>
<text x="120.3" y="58.7" font-size="34.0" text-anchor="start">1</text>
<text x="120.3" y="432.0" font-size="47.5" text-anchor="end">10</text>
<text x="120.3" y="414.0" font-size="34.0" text-anchor="start">0</text>
<text x="94.3" y="787.3" font-size="47.5" text-anchor="end">10</text>
<text x="97.0" y="772.9" font-size="34.0" text-anchor="start" textLength="23.4" lengthAdjust="spacingAndGlyphs">−</text>
<text x="121.3" y="769.3" font-size="34.0" text-anchor="start">1</text>
<text x="94.3" y="1142.6" font-size="47.5" text-anchor="end">10</text>
<text x="97.0" y="1128.2" font-size="34.0" text-anchor="start" textLength="23.4" lengthAdjust="spacingAndGlyphs">−</text>
<text x="121.3" y="1124.6" font-size="34.0" text-anchor="start">2</text>
<text x="650.0" y="47.5" font-size="50.0" text-anchor="start" class="it" style="fill:#000">ν</text>
<text x="673.5" y="54.5" font-size="32.0" text-anchor="start" style="fill:#000">1</text>
<text x="705.0" y="51.0" font-size="50.0" text-anchor="start" textLength="38.4" lengthAdjust="spacingAndGlyphs" style="fill:#000">=</text>
<text x="744.0" y="47.5" font-size="50.0" text-anchor="start" textLength="99" lengthAdjust="spacingAndGlyphs" style="fill:#000">0.02,</text>
<text x="876.0" y="47.5" font-size="50.0" text-anchor="start" class="it" textLength="19" lengthAdjust="spacingAndGlyphs" style="fill:#000">ζ</text>
<text x="895.5" y="54.5" font-size="32.0" text-anchor="start" style="fill:#000">2</text>
<text x="928.3" y="51.0" font-size="50.0" text-anchor="start" textLength="38.4" lengthAdjust="spacingAndGlyphs" style="fill:#000">=</text>
<text x="967.5" y="47.5" font-size="50.0" text-anchor="start" textLength="85.5" lengthAdjust="spacingAndGlyphs" style="fill:#000">0.80</text>
<text x="671.0" y="1255.0" font-size="60.0" text-anchor="start" class="it" textLength="24" lengthAdjust="spacingAndGlyphs" style="fill:#1a1a1a">ζ</text>
<text x="696.0" y="1263.0" font-size="39.0" text-anchor="start" style="fill:#1a1a1a">1</text>
<text x="733.5" y="1260.0" font-size="60.0" text-anchor="start" textLength="46.7" lengthAdjust="spacingAndGlyphs" style="fill:#1a1a1a">=</text>
<text x="796.0" y="1255.0" font-size="60.0" text-anchor="start" class="it" style="fill:#1a1a1a">c</text>
<text x="821.5" y="1263.0" font-size="39.0" text-anchor="start" style="fill:#1a1a1a">1</text>
<text x="845.4" y="1262.8" font-size="71.3" text-anchor="start" class="sl" style="fill:#1a1a1a">/</text>
<text x="874.5" y="1255.0" font-size="60.0" text-anchor="start" style="fill:#1a1a1a">2</text>
<text x="902.0" y="1255.0" font-size="60.0" text-anchor="start" class="it" textLength="46.5" lengthAdjust="spacingAndGlyphs" style="fill:#1a1a1a">m</text>
<text x="951.0" y="1264.5" font-size="42.0" text-anchor="start" class="it" textLength="19.5" lengthAdjust="spacingAndGlyphs" style="fill:#1a1a1a">r</text>
<text x="975.0" y="1255.0" font-size="60.0" text-anchor="start" class="it" textLength="38" lengthAdjust="spacingAndGlyphs" style="fill:#1a1a1a">ω</text>
<text x="1011.0" y="1264.5" font-size="42.0" text-anchor="start" class="it" textLength="19.5" lengthAdjust="spacingAndGlyphs" style="fill:#1a1a1a">r</text>
<g transform="translate(42.5 734) rotate(-90)">
<text x="0.0" y="0.0" font-size="60.0" text-anchor="start" class="it" style="fill:#1a1a1a">ν</text>
<text x="25.0" y="8.0" font-size="39.0" text-anchor="start" style="fill:#1a1a1a">2</text>
<text x="64.2" y="4.5" font-size="60.0" text-anchor="start" textLength="46.1" lengthAdjust="spacingAndGlyphs" style="fill:#1a1a1a">=</text>
<text x="125.3" y="0.0" font-size="60.0" text-anchor="start" class="it" textLength="38" lengthAdjust="spacingAndGlyphs" style="fill:#1a1a1a">ω</text>
<text x="161.5" y="9.5" font-size="40.0" text-anchor="start" class="it" textLength="19" lengthAdjust="spacingAndGlyphs" style="fill:#1a1a1a">r</text>
<text x="187.8" y="7.8" font-size="71.3" text-anchor="start" class="sl" style="fill:#1a1a1a">/</text>
<text x="215.8" y="0.0" font-size="60.0" text-anchor="start" class="it" textLength="35" lengthAdjust="spacingAndGlyphs" style="fill:#1a1a1a">μ</text>
<text x="256.5" y="8.0" font-size="39.0" text-anchor="start" style="fill:#1a1a1a">2</text>
</g>
<rect x="871.6" y="102.6" width="633" height="359.6" fill="#fff" stroke="#303030" stroke-width="2.4"/>
<rect x="890.5" y="121.6" width="145" height="28.4" fill="#cccccc"/>
<text x="1051.5" y="146.6" font-size="41.0" text-anchor="start" textLength="389" lengthAdjust="spacingAndGlyphs" style="fill:#000">One overdamped mode</text>
<rect x="890.5" y="170.5" width="145" height="28.4" fill="#808080"/>
<text x="1051.5" y="195.5" font-size="41.0" text-anchor="start" textLength="409" lengthAdjust="spacingAndGlyphs" style="fill:#000">Two overdamped modes</text>
<rect x="890.5" y="219.3" width="145" height="28.4" fill="#4d4d4d"/>
<text x="1051.5" y="244.3" font-size="41.0" text-anchor="start" textLength="434" lengthAdjust="spacingAndGlyphs" style="fill:#000">Three overdamped modes</text>
<rect x="890.5" y="278.1" width="145" height="9.6" fill="#e400e4"/>
<text x="1051.5" y="293.2" font-size="41.0" text-anchor="start" textLength="410" lengthAdjust="spacingAndGlyphs" style="fill:#000">Critical curves 1st mode</text>
<rect x="890.5" y="326.9" width="145" height="9.6" fill="#ff0000"/>
<text x="1051.5" y="342.0" font-size="41.0" text-anchor="start" textLength="423" lengthAdjust="spacingAndGlyphs" style="fill:#000">Critical curves 2nd mode</text>
<rect x="890.5" y="375.8" width="145" height="9.6" fill="#1bb21b"/>
<text x="1051.5" y="390.9" font-size="41.0" text-anchor="start" textLength="417" lengthAdjust="spacingAndGlyphs" style="fill:#000">Critical curves 3rd mode</text>
<rect x="890.5" y="424.6" width="145" height="9.6" fill="#0000ff"/>
<text x="1051.5" y="439.7" font-size="41.0" text-anchor="start" textLength="417" lengthAdjust="spacingAndGlyphs" style="fill:#000">Critical curves 4th mode</text>
</svg></body></html>
